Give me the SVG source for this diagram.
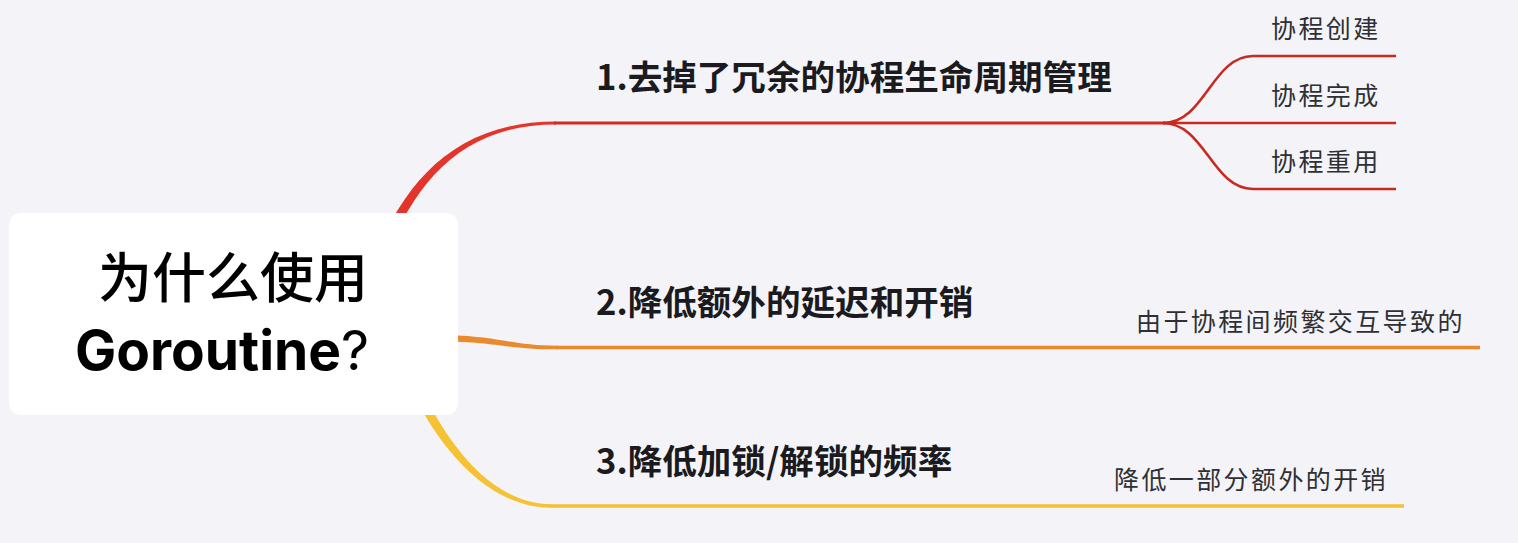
<svg xmlns="http://www.w3.org/2000/svg" width="1518" height="543" viewBox="0 0 1518 543">
<style>
.bg{fill:#f4f4f8}
.box{fill:#ffffff}
.main{font-family:"Noto Sans CJK SC","Noto Sans",sans-serif;font-weight:bold;font-size:34.6px;fill:#1a1a1f}
.sub{font-family:"Noto Sans CJK SC","Noto Sans",sans-serif;font-size:25px;letter-spacing:2.4px;fill:#2e3035}
.title{font-family:"Noto Sans CJK SC","Noto Sans",sans-serif;font-weight:500;font-size:54px;fill:#000}
.latin{font-family:"Inter","Noto Sans CJK SC",sans-serif;font-weight:bold;font-size:55px;fill:#000}
.red{stroke:#d22a20;fill:none;stroke-width:3}
.redb{stroke:#c92a1f;fill:none;stroke-width:2.6}
.org{stroke:#e8892e;fill:none;stroke-width:3.5}
.yel{stroke:#f4c134;fill:none;stroke-width:3.5}
</style>
<rect class="bg" x="0" y="0" width="1518" height="543"/>
<g id="connectors">
  <path fill="#e3352b" d="M373,260 C406,178 458,121.5 556,121.5 L556,124.5 C462,124.5 414,182 383,264 Z"/>
  <path class="red" d="M554,123 L1165,123"/>
  <path class="redb" d="M1163,123 C1205,123 1212,56 1253,56 L1396,56"/>
  <path class="redb" d="M1163,123 L1396,123"/>
  <path class="redb" d="M1163,123 C1205,123 1212,189 1253,189 L1396,189"/>
  <path fill="#ea8a2c" d="M440,335 C500,335.5 510,345.8 558,345.8 L558,349.3 C505,349.3 495,341.5 440,341.5 Z"/>
  <path class="org" d="M556,347.5 L1480,347.5"/>
  <path fill="#f5c233" d="M414.6,373 C444,443 492,504.25 551,504.25 L551,507.75 C488,507.75 436,447 405.4,377 Z"/>
  <path class="yel" d="M549,506 L1404,506"/>
</g>
<g id="root">
  <rect class="box" x="9" y="213" width="449" height="202" rx="12"/>
  <text class="title" x="233" y="298" text-anchor="middle">为什么使用</text>
  <text class="latin" x="75" y="370">Goroutine<tspan style="font-weight:normal">?</tspan></text>
</g>
<g id="n1"><text class="main" x="596" y="90">1.去掉了冗余的协程生命周期管理</text></g>
<g id="n1a"><text class="sub" x="1271" y="38">协程创建</text></g>
<g id="n1b"><text class="sub" x="1271" y="105">协程完成</text></g>
<g id="n1c"><text class="sub" x="1271" y="171">协程重用</text></g>
<g id="n2"><text class="main" x="596" y="315">2.降低额外的延迟和开销</text></g>
<g id="n2a"><text class="sub" x="1136" y="331">由于协程间频繁交互导致的</text></g>
<g id="n3"><text class="main" x="596" y="474">3.降低加锁/解锁的频率</text></g>
<g id="n3a"><text class="sub" x="1114" y="489">降低一部分额外的开销</text></g>
</svg>
